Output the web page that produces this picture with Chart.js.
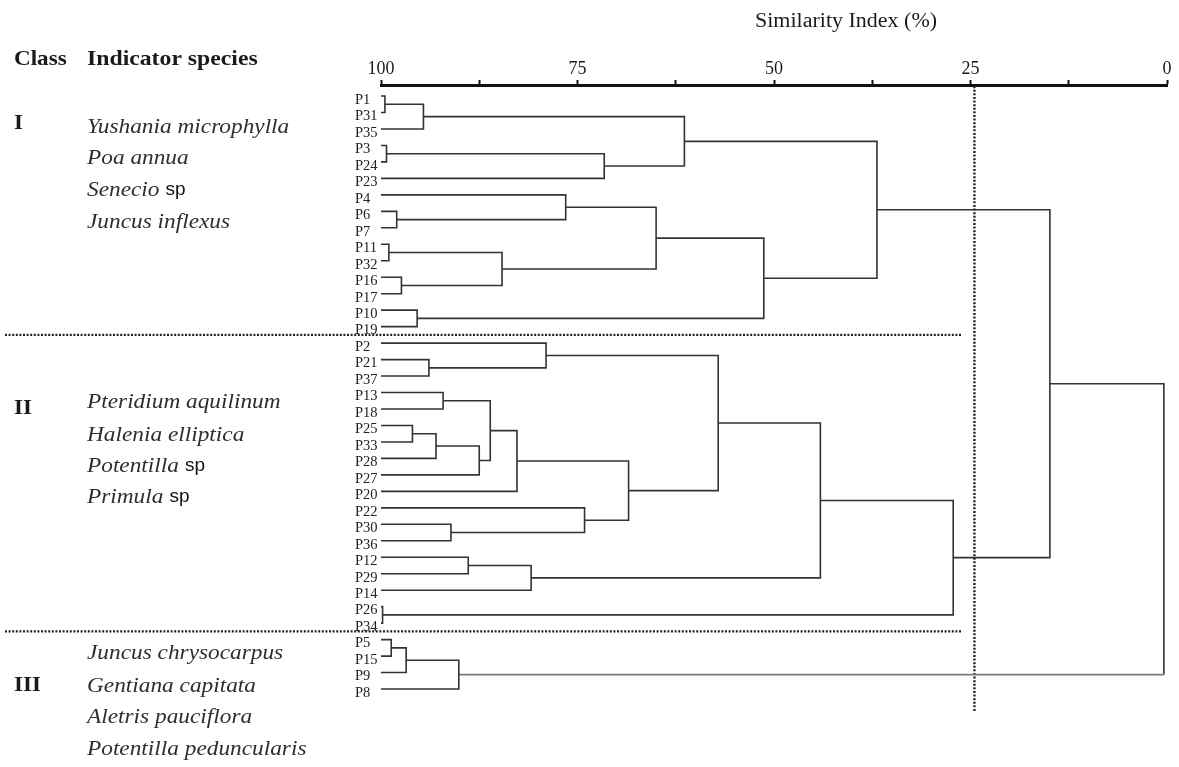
<!DOCTYPE html>
<html>
<head>
<meta charset="utf-8">
<script src="https://cdn.jsdelivr.net/npm/chart.js@4.4.1/dist/chart.umd.min.js"></script>
<style>
  html, body { margin: 0; padding: 0; background: #fff; }
  #wrap { width: 1179px; height: 767px; position: relative; }
</style>
</head>
<body>
<div id="wrap"><canvas id="c" width="1179" height="767"></canvas></div>
<script>
// Plot order of the sampling plots (top to bottom)
const leafLabels = ['P1','P31','P35','P3','P24','P23','P4','P6','P7','P11','P32','P16','P17','P10','P19',
  'P2','P21','P37','P13','P18','P25','P33','P28','P27','P20','P22','P30','P36','P12','P29','P14','P26','P34',
  'P5','P15','P9','P8'];

// Agglomeration steps: node joined with node at a similarity (%); step k creates node 'M' + k
const mergeLeft  = ['P1','M1','P3','M3','M2','P6','P4','P11','P16','M8','M7','P10','M11','M5',
  'P21','P2','P13','P25','M18','M19','M17','M21','P30','P22','M22','M16','P12','M27','M26','P26','M29','M14',
  'P5','M33','M34','M32'];
const mergeRight = ['P31','P35','P24','P23','M4','P7','M6','P32','P17','M9','M10','P19','M12','M13',
  'P37','M15','P18','P33','P28','P27','M20','P20','P36','M23','M24','M25','P29','P14','M28','P34','M30','M31',
  'P15','P9','P8','M35'];
const mergeSimilarity = [99.5, 94.6, 99.3, 71.6, 61.4, 98.0, 76.5, 99.0, 97.4, 84.6, 65.0, 95.4, 51.3, 36.9,
  93.9, 79.0, 92.1, 96.0, 93.0, 87.5, 86.1, 82.7, 91.1, 74.1, 68.5, 57.1, 88.9, 80.9, 44.1, 99.8, 27.2, 14.9,
  98.7, 96.8, 90.1, 0.4];

// Similarity axis
const simTickLabels = [100, 75, 50, 25, 0];
const cutLevel = 24.5;            // similarity level at which the classes are cut
const classBreaks = [14.5, 32.5]; // boundaries between the classes, in plot rows

// Class table
const classNames = ['I', 'II', 'III'];
const classSpecies = [
  [['Yushania microphylla', ''], ['Poa annua', ''], ['Senecio', 'sp'], ['Juncus inflexus', '']],
  [['Pteridium aquilinum', ''], ['Halenia elliptica', ''], ['Potentilla', 'sp'], ['Primula', 'sp']],
  [['Juncus chrysocarpus', ''], ['Gentiana capitata', ''], ['Aletris pauciflora', ''], ['Potentilla peduncularis', '']]
];

// ---- build the dendrogram links ----
const nodePos = {};
leafLabels.forEach((name, i) => { nodePos[name] = { x: 100, y: i }; });
const LINE = '#333';
const datasets = mergeLeft.map((a, k) => {
  const b = mergeRight[k];
  const s = mergeSimilarity[k];
  const A = nodePos[a], B = nodePos[b];
  nodePos['M' + (k + 1)] = { x: s, y: (A.y + B.y) / 2 };
  const isRoot = k === mergeLeft.length - 1;
  return {
    data: [{ x: A.x, y: A.y }, { x: s, y: A.y }, { x: s, y: B.y }, { x: B.x, y: B.y }],
    showLine: true,
    borderColor: LINE,
    borderWidth: 1.6,
    pointRadius: 0,
    tension: 0,
    clip: false,
    segment: isRoot ? { borderColor: ctx => ctx.p0DataIndex === 2 ? '#7a7a7a' : LINE } : undefined
  };
});

const SERIF = '"Liberation Serif", "Times New Roman", serif';
const SANS = '"Liberation Sans", Arial, sans-serif';

// text drawn slightly widened, the way the figure's typesetting looks
function wideText(ctx, text, x, y, sx) {
  ctx.save();
  ctx.translate(x, y);
  ctx.scale(sx, 1);
  ctx.fillText(text, 0, 0);
  const w = ctx.measureText(text).width * sx;
  ctx.restore();
  return w;
}

const overlay = {
  id: 'overlay',
  beforeDatasetsDraw(chart) {
    const { ctx, scales: { x, y } } = chart;
    ctx.save();
    ctx.strokeStyle = '#222';
    ctx.lineWidth = 2.4;
    ctx.setLineDash([2, 1.6]);
    classBreaks.forEach(r => {
      const py = y.getPixelForValue(r);
      ctx.beginPath();
      ctx.moveTo(5, py);
      ctx.lineTo(x.getPixelForValue(26), py);
      ctx.stroke();
    });
    const cx = x.getPixelForValue(cutLevel);
    ctx.beginPath();
    ctx.moveTo(cx, y.getPixelForValue(-0.6));
    ctx.lineTo(cx, y.getPixelForValue(37.4));
    ctx.stroke();
    ctx.restore();
  },
  afterDraw(chart) {
    const { ctx } = chart;
    ctx.save();
    ctx.fillStyle = '#1a1a1a';
    ctx.textBaseline = 'middle';
    ctx.textAlign = 'left';
    ctx.font = '20px ' + SERIF;
    wideText(ctx, 'Similarity Index (%)', 755, 22, 1.1);

    ctx.font = 'bold 21px ' + SERIF;
    wideText(ctx, 'Class', 14, 60, 1.1);
    wideText(ctx, 'Indicator species', 87, 60, 1.13);

    const classY = [124, 409, 686];
    const speciesY = [[127, 158, 190, 222], [402, 435, 466, 497], [653, 686, 717, 749]];
    classNames.forEach((c, i) => {
      ctx.font = 'bold 20px ' + SERIF;
      ctx.fillStyle = '#1a1a1a';
      wideText(ctx, c, 14, classY[i], 1.15);
      classSpecies[i].forEach((sp, j) => {
        ctx.font = 'italic 21px ' + SERIF;
        ctx.fillStyle = '#2e2e2e';
        const w = wideText(ctx, sp[0], 87, speciesY[i][j], 1.11);
        if (sp[1]) {
          ctx.font = '19px ' + SANS;
          ctx.fillStyle = '#111';
          wideText(ctx, sp[1], 87 + w + 6, speciesY[i][j], 1.0);
        }
      });
    });
    ctx.restore();
  }
};

new Chart(document.getElementById('c'), {
  type: 'scatter',
  data: { datasets },
  options: {
    responsive: false,
    animation: false,
    events: [],
    layout: { padding: { left: 355, right: 12, top: 0, bottom: 47 } },
    plugins: { legend: { display: false }, tooltip: { enabled: false } },
    scales: {
      x: {
        type: 'linear',
        position: 'top',
        reverse: true,
        min: 0,
        max: 100,
        afterFit: sc => { sc.height = 85; },
        ticks: {
          stepSize: 12.5,
          autoSkip: false,
          maxRotation: 0,
          padding: 0,
          color: '#1a1a1a',
          font: { family: SERIF, size: 18 },
          callback: v => simTickLabels.includes(v) ? String(v) : ''
        },
        grid: { drawOnChartArea: false, drawTicks: true, tickLength: 5, tickColor: '#111', tickWidth: 2 },
        border: { display: true, color: '#111', width: 3 }
      },
      y: {
        type: 'linear',
        reverse: true,
        min: -0.67,
        max: 37.88,
        afterFit: sc => { sc.width = 26; },
        afterBuildTicks: sc => { sc.ticks = leafLabels.map((_, i) => ({ value: i })); },
        ticks: {
          autoSkip: false,
          crossAlign: 'far',
          labelOffset: 4,
          padding: 0,
          color: '#222',
          font: { family: SERIF, size: 14.5 },
          callback: v => leafLabels[Math.round(v)]
        },
        grid: { display: false, drawTicks: false },
        border: { display: false }
      }
    }
  },
  plugins: [overlay]
});
</script>
</body>
</html>
